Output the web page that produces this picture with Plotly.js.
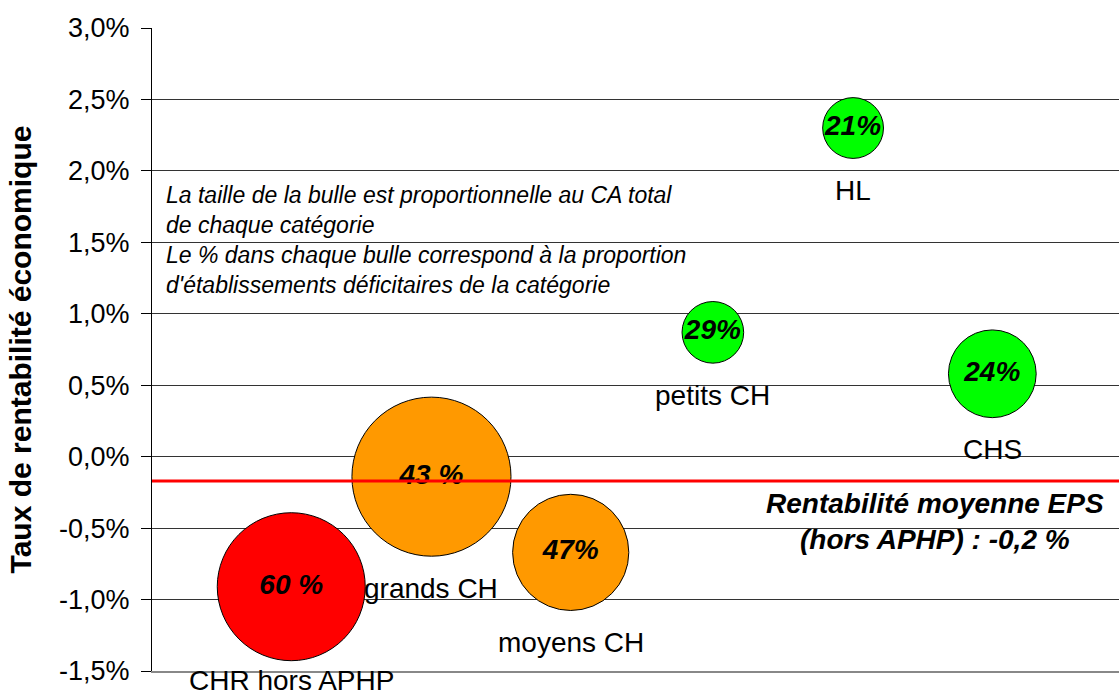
<!DOCTYPE html>
<html>
<head>
<meta charset="utf-8">
<script src="https://cdn.plot.ly/plotly-3.0.1.min.js"></script>
<style>
  html, body { margin: 0; padding: 0; background: #fff; }
  #chart { width: 1119px; height: 695px; }
</style>
</head>
<body>
<div id="chart"></div>
<script>
// catégories d'établissements
const categories = ['CHR hors APHP', 'grands CH', 'moyens CH', 'petits CH', 'HL', 'CHS'];
// position horizontale (sans échelle affichée)
const positions = [1.44, 2.89, 4.33, 5.80, 7.25, 8.69];
// taux de rentabilité économique
const rentabilite = [-0.0091, -0.0014, -0.0067, 0.0087, 0.0230, 0.0058];
// CA total de chaque catégorie (unités relatives)
const caTotal = [21.9, 25.3, 13.5, 3.8, 3.7, 7.7];
// proportion d'établissements déficitaires
const deficitaires = ['60 %', '43 %', '47%', '29%', '21%', '24%'];
const couleurs = ['#ff0000', '#ff9900', '#ff9900', '#00ff00', '#00ff00', '#00ff00'];
// rentabilité moyenne EPS (hors APHP)
const moyenne = -0.0017;
// graduations de l'axe vertical
const tickVals = [-0.015, -0.01, -0.005, 0, 0.005, 0.01, 0.015, 0.02, 0.025, 0.03];
const tickLabels = ['-1,5%', '-1,0%', '-0,5%', '0,0%', '0,5%', '1,0%', '1,5%', '2,0%', '2,5%', '3,0%'];

const FONT = 'Liberation Sans, Arial, sans-serif';
const sizeref = 0.002;
const rayon = v => Math.sqrt(v / (2 * sizeref));

const bulles = {
    type: 'scatter',
    mode: 'markers+text',
    x: positions,
    y: rentabilite,
    text: deficitaires,
    textposition: 'middle center',
    textfont: { family: FONT, size: 28, color: '#000', weight: 'bold', style: 'italic' },
    marker: {
        size: caTotal,
        sizemode: 'area',
        sizeref: sizeref,
        color: couleurs,
        opacity: 1,
        line: { color: '#000', width: 1 }
    },
    cliponaxis: false,
    hoverinfo: 'skip',
    showlegend: false
};

const annotations = categories.map((c, i) => ({
    x: positions[i], y: rentabilite[i], xref: 'x', yref: 'y',
    text: c, showarrow: false,
    yshift: -(rayon(caTotal[i]) + (i === 0 ? 20 : 32)),
    font: { family: FONT, size: 28, color: '#000' }
}));

annotations.push({
    xref: 'paper', yref: 'paper', x: 0.012, y: 0.764,
    xanchor: 'left', yanchor: 'top', align: 'left', showarrow: false,
    text: 'La taille de la bulle est proportionnelle au CA total<br>de chaque catégorie<br>' +
          'Le % dans chaque bulle correspond à la proportion<br>d\'établissements déficitaires de la catégorie',
    font: { family: FONT, size: 23, color: '#000', style: 'italic' }
});

annotations.push({
    xref: 'paper', yref: 'paper', x: 0.81, y: 0.233,
    xanchor: 'center', yanchor: 'middle', align: 'center', showarrow: false,
    text: 'Rentabilité moyenne EPS<br>(hors APHP) : -0,2 %',
    font: { family: FONT, size: 28, color: '#000', weight: 'bold', style: 'italic' }
});

const layout = {
    width: 1119,
    height: 695,
    margin: { l: 152, r: 0, t: 28, b: 24 },
    paper_bgcolor: '#fff',
    plot_bgcolor: '#fff',
    font: { family: FONT, color: '#000' },
    xaxis: {
        range: [0, 10],
        showgrid: false,
        zeroline: false,
        showticklabels: false,
        ticks: '',
        showline: true,
        linecolor: '#888',
        linewidth: 1.5
    },
    yaxis: {
        range: [-0.015, 0.03],
        tickmode: 'array',
        tickvals: tickVals,
        ticktext: tickLabels,
        showgrid: true,
        gridcolor: '#333',
        gridwidth: 1,
        zeroline: false,
        showline: true,
        linecolor: '#000',
        linewidth: 1,
        ticks: 'outside',
        ticklen: 10,
        tickcolor: '#000',
        ticklabelstandoff: 6,
        tickfont: { family: FONT, size: 27, color: '#000' },
        title: {
            text: 'Taux de rentabilité économique',
            font: { family: FONT, size: 30, color: '#000', weight: 'bold' },
            standoff: 18
        }
    },
    shapes: [{
        type: 'line', xref: 'paper', yref: 'y',
        x0: 0, x1: 1, y0: moyenne, y1: moyenne,
        line: { color: '#ff0000', width: 3 }
    }],
    annotations: annotations
};

Plotly.newPlot('chart', [bulles], layout, { displayModeBar: false, staticPlot: true });
</script>
</body>
</html>
